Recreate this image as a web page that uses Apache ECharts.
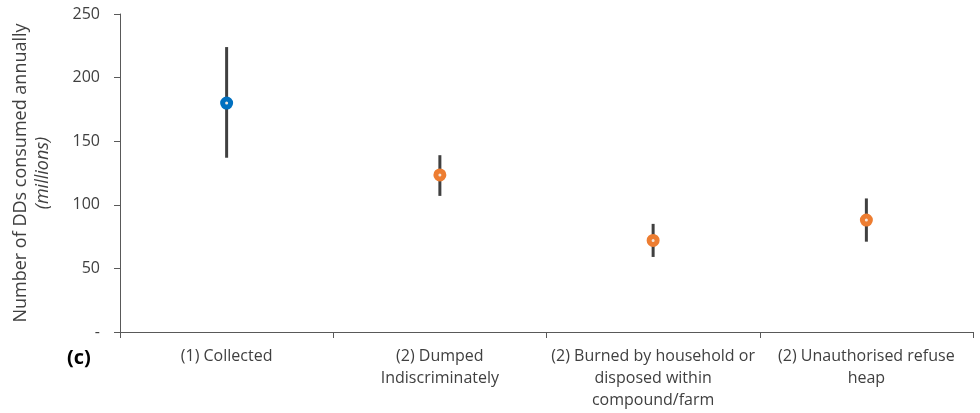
<!DOCTYPE html>
<html>
<head>
<meta charset="utf-8">
<script src="https://cdn.jsdelivr.net/npm/echarts@6/dist/echarts.min.js"></script>
<style>
  html, body { margin: 0; padding: 0; background: #fff; }
  #chart { width: 980px; height: 413px; }
</style>
</head>
<body>
<div id="chart"></div>
<script>
// disposal routes and DD counts (millions)
var categories = ['(1) Collected', '(2) Dumped\nIndiscriminately', '(2) Burned by household or\ndisposed within\ncompound/farm', '(2) Unauthorised refuse\nheap'];
var groups = [1, 2, 2, 2];
var means = [180, 123.5, 72, 88];
var lows = [137, 107, 59, 71];
var highs = [224, 139, 85, 105];
var yTicks = [0, 50, 100, 150, 200, 250];

var groupColor = { 1: '#0070C0', 2: '#ED7D31' };
var font = '"Open Sans", sans-serif';
var textColor = '#404040';

var chart = echarts.init(document.getElementById('chart'));

var errData = categories.map(function (c, i) { return [i, lows[i], highs[i]]; });
var pointData = categories.map(function (c, i) {
  return { value: [i, means[i]], itemStyle: { borderColor: groupColor[groups[i]] } };
});

chart.setOption({
  animation: false,
  grid: { left: 120, right: 7, top: 14, bottom: 81 },
  xAxis: {
    type: 'category',
    data: categories,
    boundaryGap: true,
    axisLine: { lineStyle: { color: '#595959', width: 1 } },
    axisTick: { show: true, length: 6, lineStyle: { color: '#595959' } },
    axisLabel: { fontFamily: font, fontSize: 16, color: textColor, lineHeight: 22, margin: 13, interval: 0 }
  },
  yAxis: {
    type: 'value',
    min: yTicks[0],
    max: yTicks[yTicks.length - 1],
    interval: 50,
    splitLine: { show: false },
    axisLine: { show: true, lineStyle: { color: '#595959', width: 1 } },
    axisTick: { show: true, length: 6, lineStyle: { color: '#595959' } },
    axisLabel: {
      fontFamily: font, fontSize: 16, color: textColor, margin: 20,
      formatter: function (v) { return v === 0 ? '-' : String(v); }
    },
    name: '{a|Number of DDs consumed annually}\n{b|(millions)}',
    nameLocation: 'middle',
    nameRotate: 90,
    nameGap: 66,
    nameTextStyle: {
      align: 'center',
      rich: {
        a: { fontFamily: font, fontSize: 18, color: textColor, lineHeight: 22 },
        b: { fontFamily: font, fontSize: 18, color: textColor, fontStyle: 'italic', lineHeight: 22 }
      }
    }
  },
  graphic: [{
    type: 'text', left: 67, top: 348,
    style: { text: '(c)', font: 'bold 20px ' + font, fill: '#000' }
  }],
  series: [{
    type: 'custom',
    z: 2,
    data: errData,
    renderItem: function (params, api) {
      var lo = api.coord([api.value(0), api.value(1)]);
      var hi = api.coord([api.value(0), api.value(2)]);
      return {
        type: 'line',
        shape: { x1: lo[0], y1: lo[1], x2: hi[0], y2: hi[1] },
        style: { stroke: '#404040', lineWidth: 3 }
      };
    }
  }, {
    type: 'scatter',
    z: 3,
    symbol: 'circle',
    symbolSize: 8,
    data: pointData,
    itemStyle: { color: '#f3e6dc', borderWidth: 5, opacity: 1 }
  }]
});
</script>
</body>
</html>
